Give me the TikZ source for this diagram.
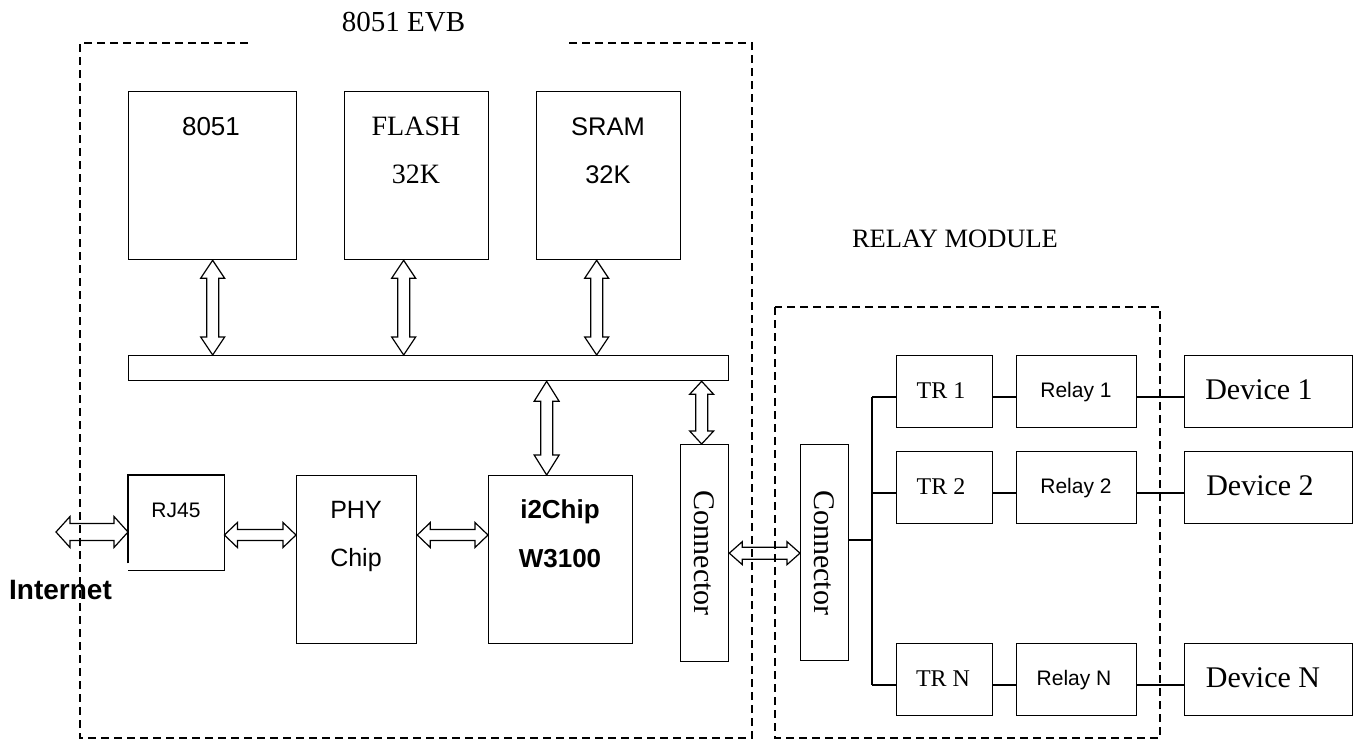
\documentclass[tikz,border=0pt]{standalone}
\usepackage{fontspec}
\setmainfont{Liberation Serif}
\setsansfont{Liberation Sans}
\usetikzlibrary{calc}
\newcommand{\DArrV}[5]{\draw[dbl] let \p1=(#1), \p2=(#2) in (\x1,\y1) -- (\x1+#3pt,\y1-#5pt) -- (\x1+#4pt,\y1-#5pt) -- (\x1+#4pt,\y2+#5pt) -- (\x1+#3pt,\y2+#5pt) -- (\x1,\y2) -- (\x1-#3pt,\y2+#5pt) -- (\x1-#4pt,\y2+#5pt) -- (\x1-#4pt,\y1-#5pt) -- (\x1-#3pt,\y1-#5pt) -- cycle;}
\newcommand{\DArrH}[5]{\draw[dbl] let \p1=(#1), \p2=(#2) in (\x1,\y1) -- (\x1+#5pt,\y1+#3pt) -- (\x1+#5pt,\y1+#4pt) -- (\x2-#5pt,\y1+#4pt) -- (\x2-#5pt,\y1+#3pt) -- (\x2,\y1) -- (\x2-#5pt,\y1-#3pt) -- (\x2-#5pt,\y1-#4pt) -- (\x1+#5pt,\y1-#4pt) -- (\x1+#5pt,\y1-#3pt) -- cycle;}
\tikzset{
  box/.style={draw, line width=1.3pt, inner sep=0pt, anchor=north west},
  sz/.style 2 args={minimum width=#1pt, minimum height=#2pt},
  dbl/.style={draw, line width=1.2pt, line join=miter},
  frame/.style={line width=1.2pt, dash pattern=on 8pt off 5pt},
  wire/.style={line width=1.3pt},
  sf/.style={font=\sffamily\fontsize{#1}{#1}\selectfont, anchor=base, inner sep=0pt},
  rm/.style={font=\rmfamily\fontsize{#1}{#1}\selectfont, anchor=base, inner sep=0pt},
  sfb/.style={font=\sffamily\bfseries\fontsize{#1}{#1}\selectfont, anchor=base, inner sep=0pt}
}
\begin{document}
\begin{tikzpicture}[x=1pt, y=-1pt]
\useasboundingbox (0,0) rectangle (1361,740);
% containers
\draw[frame] (248,43) -- (80,43) -- (80,738) -- (752,738) -- (752,43) -- (566,43);
\draw[frame] (775,307) rectangle (1160,738);
\node[rm=29] (tevb) at (403.5,31.5) {8051 EVB};
\node[rm=26.5] (trm) at (955,247) {RELAY MODULE};
% top row
\node[box, sz={168}{168}] (m8051) at (128,91) {};
\node[box, sz={144}{168}] (flash) at (344,91) {};
\node[box, sz={144}{168}] (sram) at (536,91) {};
\node[sf=26] (t8051) at (211,135) {8051};
\node[rm=28] (tflash) at (416,135) {FLASH};
\node[rm=28] (tflashk) at (416,183) {32K};
\node[sf=25.5] (tsram) at (608,135) {SRAM};
\node[sf=25.5] (tsramk) at (608,183) {32K};
% bus
\node[box, sz={600}{25}] (bus) at (128,355) {};
% lower row
\node[inner sep=0pt, anchor=north west, sz={96}{95}] (rj) at (128,475) {};
\draw[line width=1.3pt] ($(rj.south west)+(0,-7)$) -- (rj.north west) -- (rj.north east) -- (rj.south east) -- (rj.south west);
\node[sf=21] (trj) at (176,517) {RJ45};
\node[box, sz={120}{168}] (phy) at (296,475) {};
\node[sf=25] (tphy1) at (356,518) {PHY};
\node[sf=25] (tphy2) at (356,566) {Chip};
\node[box, sz={144}{168}] (i2c) at (488,475) {};
\node[sfb=26] (ti2c1) at (560,518) {i2Chip};
\node[sfb=26] (ti2c2) at (560,567) {W3100};
\node[box, sz={48}{217}] (conL) at (680,444) {};
\node[rm=30, anchor=center, rotate=-90] (tconL) at (conL.center) {Connector};
\node[sfb=28] (tnet) at (60.5,599) {Internet};
\coordinate (net) at (56,532);
\coordinate (ly) at (0,535);
% relay module
\node[box, sz={48}{216}] (conR) at (800,444) {};
\node[rm=30, anchor=center, rotate=-90] (tconR) at (conR.center) {Connector};
\node[box, sz={96}{72}] (tr1) at (896,355) {};
\node[box, sz={96}{72}] (tr2) at (896,451) {};
\node[box, sz={96}{72}] (trn) at (896,643) {};
\node[box, sz={120}{72}] (rl1) at (1016,355) {};
\node[box, sz={120}{72}] (rl2) at (1016,451) {};
\node[box, sz={120}{72}] (rln) at (1016,643) {};
\node[box, sz={168}{72}] (dv1) at (1184,355) {};
\node[box, sz={168}{72}] (dv2) at (1184,451) {};
\node[box, sz={168}{72}] (dvn) at (1184,643) {};
\node[rm=24] (ttr1) at (941,398) {TR 1};
\node[rm=24] (ttr2) at (941,494) {TR 2};
\node[rm=24] (ttrn) at (943,686) {TR N};
\node[sf=21] (trl1) at (1076,397) {Relay 1};
\node[sf=21] (trl2) at (1076,493) {Relay 2};
\node[sf=21] (trln) at (1074,685) {Relay N};
\node[rm=30] (tdv1) at (1259,399) {Device 1};
\node[rm=30] (tdv2) at (1260,495) {Device 2};
\node[rm=30] (tdvn) at (1263,687) {Device N};
% vertical arrows
\coordinate (a1) at (m8051.south);
\coordinate (a2) at ($(flash.south)+(-13,0)$);
\coordinate (a3) at ($(sram.south)+(-12,0)$);
\coordinate (a4) at ($(i2c.north)+(-14,0)$);
\coordinate (a5) at ($(conL.north)+(-3,0)$);
\DArrV{a1}{a1 |- bus.north}{12}{6}{18}
\DArrV{a2}{a2 |- bus.north}{12}{6}{18}
\DArrV{a3}{a3 |- bus.north}{12}{6}{18}
\DArrV{a4 |- bus.south}{a4}{12.5}{6}{20}
\DArrV{a5 |- bus.south}{a5}{12}{6}{13}
% horizontal arrows
\DArrH{net}{rj.west |- net}{15.5}{8.5}{14}
\DArrH{rj.east |- ly}{phy.west |- ly}{12.5}{5.5}{13}
\DArrH{phy.east |- ly}{i2c.west |- ly}{12.5}{5.5}{13}
\DArrH{conL.east}{conR.west}{11.5}{6}{13}
% wires
\coordinate (j) at (872,540);
\coordinate (y1) at (0,397);
\coordinate (y2) at (0,493);
\coordinate (yn) at (0,685);
\draw[wire] (conR.east |- j) -- (j);
\draw[wire] (j |- y1) -- (j |- yn);
\draw[wire] (j |- y1) -- (tr1.west |- y1);
\draw[wire] (j |- y2) -- (tr2.west |- y2);
\draw[wire] (j |- yn) -- (trn.west |- yn);
\draw[wire] (tr1.east |- y1) -- (rl1.west |- y1);
\draw[wire] (tr2.east |- y2) -- (rl2.west |- y2);
\draw[wire] (trn.east |- yn) -- (rln.west |- yn);
\draw[wire] (rl1.east |- y1) -- (dv1.west |- y1);
\draw[wire] (rl2.east |- y2) -- (dv2.west |- y2);
\draw[wire] (rln.east |- yn) -- (dvn.west |- yn);
\end{tikzpicture}
\end{document}
